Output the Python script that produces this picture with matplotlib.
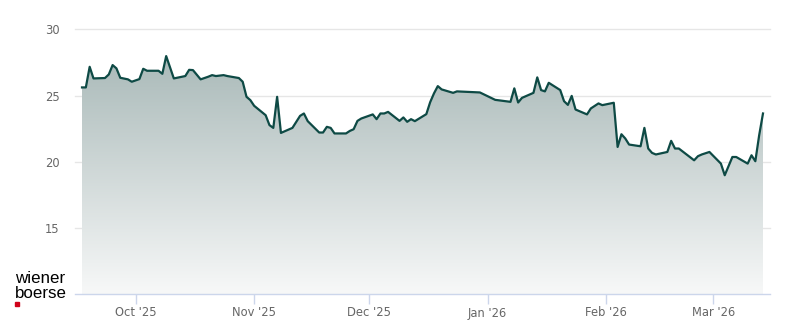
import numpy as np
import pandas as pd
import matplotlib
matplotlib.use("Agg")
import matplotlib.pyplot as plt
import matplotlib.dates as mdates
from matplotlib.colors import LinearSegmentedColormap

dates = [
    "2025-09-17", "2025-09-18", "2025-09-19", "2025-09-20", "2025-09-23", "2025-09-24",
    "2025-09-25", "2025-09-26", "2025-09-27", "2025-09-29", "2025-09-30", "2025-10-02",
    "2025-10-03", "2025-10-04", "2025-10-07", "2025-10-08", "2025-10-09", "2025-10-11",
    "2025-10-14", "2025-10-15", "2025-10-16", "2025-10-18", "2025-10-20", "2025-10-21",
    "2025-10-22", "2025-10-24", "2025-10-25", "2025-10-28", "2025-10-29", "2025-10-30",
    "2025-10-31", "2025-11-01", "2025-11-04", "2025-11-05", "2025-11-06", "2025-11-07",
    "2025-11-08", "2025-11-11", "2025-11-13", "2025-11-14", "2025-11-15", "2025-11-18",
    "2025-11-19", "2025-11-20", "2025-11-21", "2025-11-22", "2025-11-25", "2025-11-26",
    "2025-11-27", "2025-11-28", "2025-11-29", "2025-12-02", "2025-12-03", "2025-12-04",
    "2025-12-05", "2025-12-06", "2025-12-09", "2025-12-10", "2025-12-11", "2025-12-12",
    "2025-12-13", "2025-12-16", "2025-12-17", "2025-12-18", "2025-12-19", "2025-12-20",
    "2025-12-23", "2025-12-24", "2025-12-30", "2026-01-01", "2026-01-03", "2026-01-07",
    "2026-01-08", "2026-01-09", "2026-01-10", "2026-01-13", "2026-01-14", "2026-01-15",
    "2026-01-16", "2026-01-17", "2026-01-20", "2026-01-21", "2026-01-22", "2026-01-23",
    "2026-01-24", "2026-01-27", "2026-01-28", "2026-01-30", "2026-01-31", "2026-02-03",
    "2026-02-04", "2026-02-05", "2026-02-06", "2026-02-07", "2026-02-10", "2026-02-11",
    "2026-02-12", "2026-02-13", "2026-02-14", "2026-02-17", "2026-02-18", "2026-02-19",
    "2026-02-20", "2026-02-24", "2026-02-25", "2026-02-26", "2026-02-28", "2026-03-03",
    "2026-03-04", "2026-03-06", "2026-03-07", "2026-03-10", "2026-03-11", "2026-03-12",
    "2026-03-13", "2026-03-14",
]
prices = [
    25.62, 25.62, 27.18, 26.30, 26.33, 26.60,
    27.31, 27.06, 26.35, 26.23, 26.05, 26.25,
    27.03, 26.88, 26.88, 26.65, 27.99, 26.30,
    26.48, 26.95, 26.93, 26.23, 26.43, 26.55,
    26.48, 26.55, 26.48, 26.33, 26.05, 24.91,
    24.66, 24.23, 23.52, 22.77, 22.56, 24.91,
    22.18, 22.56, 23.47, 23.65, 23.07, 22.21,
    22.21, 22.64, 22.56, 22.14, 22.14, 22.33,
    22.46, 23.09, 23.27, 23.58, 23.22, 23.65,
    23.65, 23.77, 23.09, 23.35, 23.02, 23.22,
    23.07, 23.60, 24.50, 25.17, 25.72, 25.47,
    25.21, 25.32, 25.24, 24.96, 24.68, 24.53,
    25.55, 24.48, 24.83, 25.21, 26.38, 25.42,
    25.32, 25.97, 25.42, 24.58, 24.30, 24.98,
    23.95, 23.58, 24.03, 24.41, 24.28, 24.46,
    21.12, 22.08, 21.76, 21.30, 21.17, 22.56,
    21.00, 20.67, 20.55, 20.74, 21.58, 21.00,
    21.00, 20.11, 20.42, 20.55, 20.74, 19.86,
    18.98, 20.36, 20.36, 19.86, 20.49, 20.04,
    22.00, 23.65,
]
y_ticks = [15, 20, 25, 30]
x_tick_dates = ["2025-10-01", "2025-11-01", "2025-12-01", "2026-01-01", "2026-02-01", "2026-03-01"]
x_tick_labels = ["Oct '25", "Nov '25", "Dec '25", "Jan '26", "Feb '26", "Mar '26"]

x = mdates.date2num(pd.to_datetime(dates))
y = np.array(prices)

fig = plt.figure(figsize=(8.0, 3.24), dpi=100)
ax = fig.add_axes([75 / 800, 30 / 324, 695 / 800, 264.5 / 324])

ymin, ymax = 10, 30
ax.set_ylim(ymin, ymax)
ax.set_xlim(mdates.date2num(pd.Timestamp("2025-09-15 04:00")),
            mdates.date2num(pd.Timestamp("2026-03-15 20:00")))

# gradient fill under the line
poly = ax.fill_between(x, y, ymin, color="none", lw=0)
cmap = LinearSegmentedColormap.from_list("g", ["#f7f8f8", "#aabab9"])
grad = np.linspace(0, 1, 256).reshape(-1, 1)
top = y.max()
im = ax.imshow(grad, cmap=cmap, aspect="auto", origin="lower",
               extent=[x.min(), x.max(), ymin, top], zorder=1)
im.set_clip_path(poly.get_paths()[0], transform=ax.transData)

ax.plot(x, y, color="#0e4a45", lw=1.6, zorder=3, solid_joinstyle="round")

# grid
for v in y_ticks:
    ax.axhline(v, color="#e6e6e6", lw=1.0, zorder=0.5, clip_on=False)

for s in ["top", "right", "left"]:
    ax.spines[s].set_visible(False)
ax.spines["bottom"].set_color("#ccd6eb")
ax.spines["bottom"].set_linewidth(1.0)
ax.spines["bottom"].set_zorder(4)

ax.set_yticks(y_ticks)
ax.set_yticklabels([str(v) for v in y_ticks])
ax.tick_params(axis="y", length=0, pad=11, labelsize=8.3, labelcolor="#666666")

ax.set_xticks(mdates.date2num(pd.to_datetime(x_tick_dates)))
ax.set_xticklabels(x_tick_labels)
ax.tick_params(axis="x", length=7.5, width=1.0, color="#ccd6eb", pad=1.5,
               labelsize=8.3, labelcolor="#666666")

# logo
fig.text(15 / 800, 1 - 282.7 / 324, "wiener", fontsize=12.2, family="Liberation Sans",
         color="#000000", ha="left", va="baseline")
fig.text(15 / 800, 1 - 298 / 324, "boerse", fontsize=12.2, family="Liberation Sans",
         color="#000000", ha="left", va="baseline")
fig.patches.append(matplotlib.patches.Rectangle((15 / 800, 1 - 306 / 324), 4.3 / 800, 4 / 324,
                                                transform=fig.transFigure, color="#d0021b",
                                                figure=fig))

fig.savefig("out.png", dpi=100)
